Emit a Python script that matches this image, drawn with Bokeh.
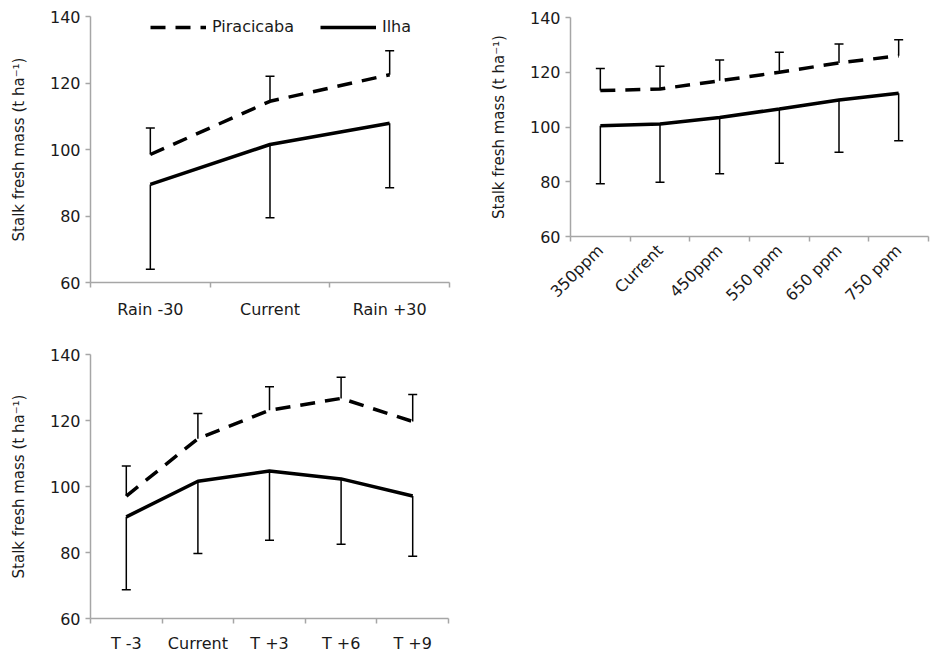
import math
from bokeh.plotting import figure
from bokeh.models import (ColumnDataSource, Range1d, FixedTicker, Whisker, TeeHead,
                          Legend, LegendItem)
from bokeh.layouts import column, row
from bokeh.embed import file_html
from bokeh.resources import INLINE

# ---------------- data ----------------
rain_labels = ["Rain -30", "Current", "Rain +30"]
rain_piracicaba = [98.5, 114.5, 122.5]
rain_piracicaba_upper = [106.5, 122.0, 129.7]
rain_ilha = [89.5, 101.5, 107.9]
rain_ilha_lower = [64.0, 79.5, 88.5]

co2_labels = ["350ppm", "Current", "450ppm", "550 ppm", "650 ppm", "750 ppm"]
co2_piracicaba = [113.3, 113.9, 116.9, 120.0, 123.4, 126.0]
co2_piracicaba_upper = [121.4, 122.2, 124.5, 127.3, 130.3, 131.9]
co2_ilha = [100.5, 101.1, 103.5, 106.6, 109.9, 112.3]
co2_ilha_lower = [79.3, 79.8, 82.9, 86.8, 90.8, 95.0]

temp_labels = ["T -3", "Current", "T +3", "T +6", "T +9"]
temp_piracicaba = [97.1, 114.5, 123.1, 126.7, 119.7]
temp_piracicaba_upper = [106.2, 122.1, 130.2, 133.1, 127.9]
temp_ilha = [90.8, 101.6, 104.7, 102.3, 97.1]
temp_ilha_lower = [68.7, 79.7, 83.7, 82.5, 78.9]

y_ticks = [60, 80, 100, 120, 140]
y_label = "Stalk fresh mass (t ha⁻¹)"
series_names = ["Piracicaba", "Ilha"]

FONT = "DejaVu Sans"
TEXT = "#1a1a1a"
AXIS = "#a6a6a6"


def make_panel(labels, pir, pir_up, ilha, ilha_low, width, height,
               left, right, top, bottom, rotate=False, legend=False, xstand=12):
    n = len(labels)
    xs = list(range(n))
    p = figure(width=width, height=height, output_backend="svg", toolbar_location=None,
               x_range=Range1d(-0.5, n - 0.5), y_range=Range1d(y_ticks[0], y_ticks[-1]),
               min_border_left=left, min_border_right=right,
               min_border_top=top, min_border_bottom=bottom)
    p.frame_align = False
    p.outline_line_color = None
    p.grid.visible = False
    p.background_fill_color = "white"
    p.border_fill_color = "white"

    src = ColumnDataSource(dict(x=xs, pir=pir, pir_up=pir_up, ilha=ilha, ilha_low=ilha_low))

    p.add_layout(Whisker(base="x", lower="pir", upper="pir_up", source=src,
                         line_color="black", line_width=1.5, lower_head=None,
                         upper_head=TeeHead(size=9, line_color="black", line_width=1.5)))
    p.add_layout(Whisker(base="x", lower="ilha_low", upper="ilha", source=src,
                         line_color="black", line_width=1.5, upper_head=None,
                         lower_head=TeeHead(size=9, line_color="black", line_width=1.5)))

    r_pir = p.line("x", "pir", source=src, line_color="black", line_width=3.5,
                   line_dash="15 10")
    r_ilha = p.line("x", "ilha", source=src, line_color="black", line_width=3.5)

    # x axis: labels at category centres, tick marks at category boundaries
    xa = p.xaxis[0]
    xa.ticker = FixedTicker(ticks=xs, minor_ticks=[i - 0.5 for i in range(n + 1)])
    xa.major_label_overrides = {i: labels[i] for i in xs}
    xa.major_tick_out = 0
    xa.major_tick_in = 0
    xa.minor_tick_out = 5
    xa.minor_tick_in = 0
    xa.minor_tick_line_color = AXIS
    xa.minor_tick_line_width = 1.5
    xa.axis_line_color = AXIS
    xa.axis_line_width = 1.5
    xa.major_label_text_font = FONT
    xa.major_label_text_font_size = "16px"
    xa.major_label_text_color = TEXT
    xa.major_label_standoff = xstand
    if rotate:
        xa.major_label_orientation = math.pi / 4

    ya = p.yaxis[0]
    ya.ticker = FixedTicker(ticks=y_ticks, minor_ticks=[])
    ya.major_tick_out = 5
    ya.major_tick_in = 0
    ya.major_tick_line_color = AXIS
    ya.major_tick_line_width = 1.5
    ya.axis_line_color = AXIS
    ya.axis_line_width = 1.5
    ya.major_label_text_font = FONT
    ya.major_label_text_font_size = "16px"
    ya.major_label_text_color = TEXT
    ya.major_label_standoff = 5
    ya.axis_label = y_label
    ya.axis_label_text_font = FONT
    ya.axis_label_text_font_size = "15px"
    ya.axis_label_text_font_style = "normal"
    ya.axis_label_text_color = TEXT
    ya.axis_label_standoff = 19

    if legend:
        lg = Legend(items=[LegendItem(label=series_names[0], renderers=[r_pir]),
                           LegendItem(label=series_names[1], renderers=[r_ilha])],
                    orientation="horizontal", location=(60, 246),
                    border_line_color=None, background_fill_alpha=0,
                    glyph_width=56, glyph_height=14, label_standoff=6, spacing=26,
                    padding=0, margin=0,
                    label_text_font=FONT, label_text_font_size="16px",
                    label_text_color=TEXT)
        p.add_layout(lg, "center")
    return p


p1 = make_panel(rain_labels, rain_piracicaba, rain_piracicaba_upper, rain_ilha,
                rain_ilha_lower, width=468, height=321, left=90, right=19, top=16,
                bottom=38, legend=True, xstand=12)
p2 = make_panel(co2_labels, co2_piracicaba, co2_piracicaba_upper, co2_ilha,
                co2_ilha_lower, width=462, height=321, left=102, right=2, top=17,
                bottom=85, rotate=True, xstand=6)
p3 = make_panel(temp_labels, temp_piracicaba, temp_piracicaba_upper, temp_ilha,
                temp_ilha_lower, width=468, height=334, left=90, right=20, top=33,
                bottom=35, xstand=10)

layout = column(row(p1, p2), p3)
open("out.html", "w").write(file_html(layout, INLINE))
